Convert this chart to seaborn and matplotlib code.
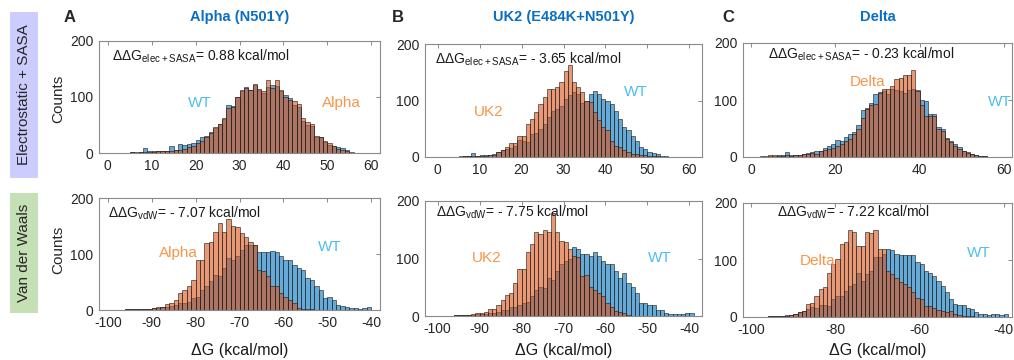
import numpy as np
import pandas as pd
import matplotlib
matplotlib.use('Agg')
import matplotlib.pyplot as plt
import seaborn as sns
from matplotlib.patches import Rectangle

sns.set_theme(style='white')
plt.rcParams['font.family'] = ['Liberation Sans', 'DejaVu Sans']
plt.rcParams['mathtext.default'] = 'regular'
plt.rcParams['axes.unicode_minus'] = False

# ---------------- data (bin counts, 1 kcal/mol bins) ----------------
# Electrostatic + SASA row
a_top_start = 4
a_top_wt = [0, 1, 1, 1, 9, 3, 4, 3, 4, 4, 12, 6, 16, 14, 16, 18, 23, 28, 30, 38, 45, 52, 60, 86, 84, 100,
            110, 118, 112, 122, 113, 108, 118, 122, 120, 110, 103, 98, 86, 82, 58, 50, 48, 28, 28, 20, 15,
            13, 10, 9, 5, 0]
a_top_var = [0, 1, 0, 1, 2, 2, 2, 3, 3, 3, 4, 5, 6, 8, 10, 12, 18, 22, 28, 36, 46, 52, 62, 80, 82, 100,
             112, 116, 112, 124, 115, 110, 130, 116, 130, 112, 100, 94, 92, 88, 63, 55, 52, 30, 28, 22, 18,
             12, 8, 6, 3, 1]

b_top_start = 4
b_top_wt = [0, 1, 1, 2, 7, 2, 3, 3, 4, 5, 9, 12, 14, 16, 20, 30, 28, 26, 40, 42, 50, 58, 70, 82, 85, 90,
            103, 109, 115, 112, 95, 100, 112, 116, 112, 103, 100, 94, 82, 68, 53, 47, 38, 29, 18, 15, 9,
            7, 5, 2, 1, 0]
b_top_var = [0, 0, 1, 1, 1, 1, 2, 2, 3, 4, 9, 12, 18, 25, 24, 38, 38, 59, 68, 79, 93, 106, 121, 121, 124,
             133, 153, 162, 132, 124, 115, 100, 97, 79, 65, 53, 47, 29, 20, 18, 12, 9, 6, 5, 4, 3, 2, 1,
             1, 0, 0, 0]

c_top_start = 2
c_top_wt = [1, 0, 2, 2, 3, 4, 9, 3, 4, 4, 5, 7, 8, 10, 11, 16, 20, 22, 29, 28, 35, 40, 44, 56, 82, 86, 94,
            110, 114, 115, 110, 120, 118, 116, 112, 118, 120, 118, 100, 99, 76, 75, 52, 49, 34, 28, 22, 18,
            11, 8, 6, 4, 2, 1]
c_top_var = [0, 1, 4, 3, 2, 2, 3, 2, 3, 4, 5, 6, 7, 6, 10, 12, 14, 16, 19, 22, 28, 31, 40, 49, 69, 84, 92,
             93, 113, 119, 119, 125, 137, 138, 143, 143, 153, 116, 92, 72, 72, 72, 50, 45, 32, 26, 20, 14,
             10, 7, 5, 3, 1, 1]

# Van der Waals row
a_bot_start = -96
a_bot_wt = [1, 1, 1, 1, 2, 2, 3, 4, 5, 6, 8, 9, 12, 12, 15, 21, 24, 36, 42, 51, 63, 60, 75, 93, 90, 96,
            107, 116, 116, 116, 104, 104, 104, 106, 104, 96, 90, 90, 81, 75, 72, 57, 54, 42, 36, 21, 23,
            18, 9, 7, 5, 3, 3, 2, 3, 5]
a_bot_var = [1, 1, 1, 1, 2, 2, 3, 5, 6, 11, 12, 18, 30, 36, 42, 54, 90, 90, 119, 122, 139, 155, 140, 162,
             150, 149, 137, 131, 121, 116, 72, 69, 60, 42, 42, 30, 24, 18, 12, 3, 2, 1, 1, 0, 0, 0, 0, 0,
             0, 0, 0, 0, 0, 0, 0, 0]

b_bot_start = -96
b_bot_wt = [1, 1, 1, 2, 2, 3, 3, 4, 5, 5, 7, 10, 11, 15, 16, 19, 22, 25, 34, 46, 51, 49, 66, 63, 78, 90,
            96, 100, 120, 117, 108, 108, 105, 111, 105, 96, 90, 90, 78, 66, 75, 57, 51, 40, 22, 22, 19, 19,
            10, 10, 5, 3, 3, 4, 4, 5, 5]
b_bot_var = [1, 1, 1, 2, 3, 6, 5, 7, 13, 13, 19, 28, 37, 40, 57, 81, 81, 111, 125, 146, 143, 149, 146,
             179, 146, 131, 128, 117, 105, 102, 69, 72, 51, 46, 40, 34, 22, 16, 9, 7, 6, 1, 0, 0, 0, 0, 0,
             0, 0, 0, 0, 0, 0, 0, 0, 0, 0]

c_bot_start = -96
c_bot_wt = [1, 1, 2, 2, 3, 4, 6, 8, 11, 14, 18, 16, 21, 21, 19, 31, 37, 37, 46, 55, 58, 78, 64, 75, 81,
            105, 105, 111, 119, 118, 111, 109, 109, 108, 108, 96, 93, 81, 78, 72, 64, 55, 43, 31, 22, 21,
            21, 16, 14, 9, 6, 5, 4, 5, 5, 4, 5]
c_bot_var = [1, 1, 1, 2, 2, 3, 6, 8, 11, 22, 24, 37, 50, 52, 78, 93, 102, 128, 131, 153, 149, 125, 125,
             150, 147, 153, 119, 119, 81, 75, 69, 61, 58, 52, 43, 34, 31, 19, 19, 16, 12, 11, 8, 11, 5, 3,
             2, 1, 1, 0, 0, 0, 0, 0, 0, 0, 0]

titles = ['Alpha (N501Y)', 'UK2 (E484K+N501Y)', 'Delta']
letters = ['A', 'B', 'C']
variants = ['Alpha', 'UK2', 'Delta']
top_dd = ['0.88', '- 3.65', '- 0.23']
bot_dd = ['- 7.07', '- 7.75', '- 7.22']

BLUE = (0.0, 0.447, 0.741)
ORANGE = (0.85, 0.325, 0.098)
EDGE = (0.1, 0.1, 0.1, 0.75)
WT_TXT = '#4DBEEE'
VAR_TXT = '#F7964A'
TITLE_C = '#0A6FC2'
SPINE = '#8a8a8a'

W, H = 1014, 360
fig = plt.figure(figsize=(W / 100, H / 100), dpi=100)


def px_axes(l, t, r, b):
    return fig.add_axes([l / W, 1 - b / H, (r - l) / W, (b - t) / H])


def draw(ax, start, wt, var, xlim, xticks):
    n = len(wt)
    centers = start + np.arange(n) + 0.5
    df = pd.DataFrame({'dG': centers, 'wt': wt, 'var': var})
    for col, colr in (('wt', BLUE), ('var', ORANGE)):
        sns.histplot(data=df, x='dG', weights=col, binwidth=1, binrange=(start, start + n),
                     color=colr, alpha=0.6, edgecolor=EDGE, linewidth=0.55, ax=ax)
    ax.set_xlim(*xlim)
    ax.set_ylim(0, 200)
    ax.set_xticks(xticks)
    ax.set_yticks([0, 100, 200])
    ax.set_ylabel('')
    ax.set_xlabel('')
    for s in ax.spines.values():
        s.set_visible(True)
        s.set_color(SPINE)
        s.set_linewidth(0.8)
    ax.tick_params(direction='in', length=3, top=True, right=True, color=SPINE,
                   labelsize=10, labelcolor='#262626', pad=4, width=0.7)


boxes_top = [(99, 41, 380, 153), (425, 44, 702, 157), (743, 43, 1012, 157)]
boxes_bot = [(99, 198, 380, 310), (425, 201, 702, 316), (743, 203, 1012, 317)]
top_data = [(a_top_start, a_top_wt, a_top_var, (-2, 62), [0, 10, 20, 30, 40, 50, 60]),
            (b_top_start, b_top_wt, b_top_var, (-3, 63), [0, 10, 20, 30, 40, 50, 60]),
            (c_top_start, c_top_wt, c_top_var, (-2, 62), [0, 20, 40, 60])]
bot_data = [(a_bot_start, a_bot_wt, a_bot_var, (-102, -38), [-100, -90, -80, -70, -60, -50, -40]),
            (b_bot_start, b_bot_wt, b_bot_var, (-103, -37), [-100, -90, -80, -70, -60, -50, -40]),
            (c_bot_start, c_bot_wt, c_bot_var, (-102, -38), [-100, -80, -60, -40])]

# label positions (data coords)
top_dd_pos = [(0.9, 172), (-0.5, 173), (3.9, 181)]
top_wt_pos = [(21, 89), (47.3, 115), (59, 97)]
top_var_pos = [(53.3, 89), (12.2, 79), (27.7, 132)]
bot_dd_pos = [(-100, 173), (-100.4, 181), (-93.8, 183)]
bot_wt_pos = [(-49.5, 112), (-47.1, 101), (-45.8, 112)]
bot_var_pos = [(-84, 101), (-88.2, 101), (-84.2, 99)]

for i in range(3):
    axt = px_axes(*boxes_top[i])
    draw(axt, *top_data[i])
    axt.text(*top_dd_pos[i], 'ΔΔG$_{elec+SASA}$= ' + top_dd[i] + ' kcal/mol',
             fontsize=10, ha='left', va='center', color='#1a1a1a')
    axt.text(*top_wt_pos[i], 'WT', fontsize=11, color=WT_TXT, ha='center', va='center')
    axt.text(*top_var_pos[i], variants[i], fontsize=11, color=VAR_TXT, ha='center', va='center')

    axb = px_axes(*boxes_bot[i])
    draw(axb, *bot_data[i])
    axb.text(*bot_dd_pos[i], 'ΔΔG$_{vdW}$= ' + bot_dd[i] + ' kcal/mol',
             fontsize=10, ha='left', va='center', color='#1a1a1a')
    axb.text(*bot_wt_pos[i], 'WT', fontsize=11, color=WT_TXT, ha='center', va='center')
    axb.text(*bot_var_pos[i], variants[i], fontsize=11, color=VAR_TXT, ha='center', va='center')

    cx = (boxes_top[i][0] + boxes_top[i][2]) / 2
    fig.text(cx / W, 1 - 17 / H, titles[i], fontsize=10.5, fontweight='bold',
             color=TITLE_C, ha='center', va='center')
    fig.text(cx / W, 1 - 350 / H, 'ΔG (kcal/mol)', fontsize=11.5, ha='center',
             va='center', color='#1a1a1a')

letter_x = [70, 398, 728]
for lx, lt in zip(letter_x, letters):
    fig.text(lx / W, 1 - 18 / H, lt, fontsize=12, fontweight='bold', ha='center', va='center')

# row labels
fig.patches.append(Rectangle((10 / W, 1 - 178 / H), 28 / W, 166 / H, transform=fig.transFigure,
                             facecolor='#CCCCFF', edgecolor='none', zorder=0))
fig.patches.append(Rectangle((10 / W, 1 - 313 / H), 28 / W, 120 / H, transform=fig.transFigure,
                             facecolor='#C5E0B4', edgecolor='none', zorder=0))
fig.text(24 / W, 1 - 95 / H, 'Electrostatic + SASA', rotation=90, fontsize=11,
         ha='center', va='center')
fig.text(24 / W, 1 - 253 / H, 'Van der Waals', rotation=90, fontsize=11,
         ha='center', va='center')
fig.text(58 / W, 1 - 99 / H, 'Counts', rotation=90, fontsize=11, ha='center', va='center')
fig.text(58 / W, 1 - 250 / H, 'Counts', rotation=90, fontsize=11, ha='center', va='center')

fig.savefig('out.png', dpi=100)
